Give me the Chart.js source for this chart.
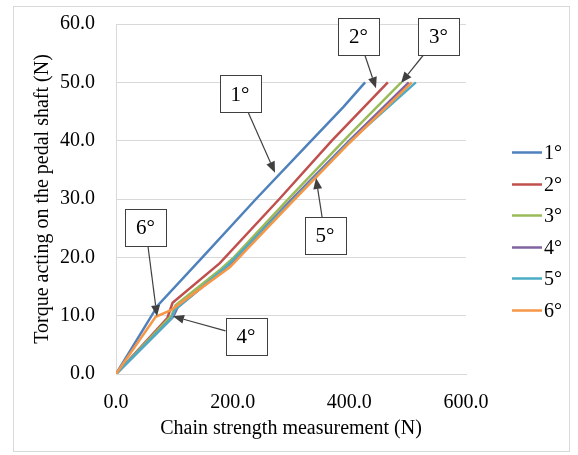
<!DOCTYPE html>
<html><head><meta charset="utf-8">
<script src="https://cdn.jsdelivr.net/npm/chart.js@4/dist/chart.umd.min.js"></script>
<style>
html,body{margin:0;padding:0;background:#fff;}
#wrap{position:absolute;left:13px;top:6px;width:555px;height:444px;border:1px solid #d9d9d9;}
canvas{display:block}
</style></head><body>
<div id="wrap"><canvas id="c" width="555" height="444"></canvas></div>
<script>
const seriesNames = ['1°','2°','3°','4°','5°','6°'];
const x1 = [0, 72, 150, 240, 330, 390, 427];
const y1 = [0, 11.8, 20.2, 30, 39.5, 45.8, 50];
const x2 = [0, 88, 97, 178, 280, 370, 466];
const y2 = [0, 9.6, 12.2, 19, 30, 40, 50];
const x3 = [0, 95, 102, 180, 200, 300, 400, 489];
const y3 = [0, 10, 11.8, 18, 19.8, 30.5, 41, 50];
const x4 = [0, 98, 106, 180, 200, 300, 400, 502];
const y4 = [0, 9.8, 11.5, 17.5, 19.3, 29.8, 40, 50];
const x5 = [0, 95, 101, 190, 300, 400, 514];
const y5 = [0, 9.5, 11, 18.5, 29.5, 39.8, 50];
const x6 = [0, 68, 95, 195, 300, 400, 507];
const y6 = [0, 9.8, 11, 18.3, 29.3, 39.6, 50];
const xTicks = [0, 200, 400, 600];
const yTicks = [0, 10, 20, 30, 40, 50, 60];

const colors = ['#4F81BD','#C0504D','#9BBB59','#8064A2','#4BACC6','#F79646'];
const xs = [x1,x2,x3,x4,x5,x6], ys = [y1,y2,y3,y4,y5,y6];
const FONT = "'Liberation Serif', 'Times New Roman', serif";
const FS = 20;

// annotation callouts: label, box centre (data), arrow tip (data)
const callouts = [
  {label:'1°', bx:212.6, by:48.0, tx:272.6, ty:34.5},
  {label:'2°', bx:415.7, by:57.9, tx:445.7, ty:49.0},
  {label:'3°', bx:552.9, by:57.9, tx:488.6, ty:49.9},
  {label:'4°', bx:222.9, by:6.4,  tx:97.7,  ty:9.9},
  {label:'5°', bx:358.3, by:23.7, tx:342.9, ty:33.6},
  {label:'6°', bx:50.6,  by:25.2, tx:70.3,  ty:9.9}
];

const calloutPlugin = {
  id:'callouts',
  afterDraw(chart){
    const ctx = chart.ctx, sx = chart.scales.x, sy = chart.scales.y;
    const W = 41, H = 37;
    ctx.save();
    callouts.forEach(c=>{
      const cx = sx.getPixelForValue(c.bx), cy = sy.getPixelForValue(c.by);
      const tx = sx.getPixelForValue(c.tx), ty = sy.getPixelForValue(c.ty);
      const dx = tx-cx, dy = ty-cy;
      const t = Math.min(Math.abs((W/2)/ (dx||1e-9)), Math.abs((H/2)/(dy||1e-9)));
      const s0x = cx + dx*t, s0y = cy + dy*t;
      const ang = Math.atan2(ty-s0y, tx-s0x);
      const L = 11, hw = 4.5;
      const bx = tx - Math.cos(ang)*L, by = ty - Math.sin(ang)*L;
      ctx.strokeStyle = '#404040'; ctx.fillStyle = '#404040'; ctx.lineWidth = 1.2;
      ctx.beginPath(); ctx.moveTo(s0x,s0y); ctx.lineTo(bx,by); ctx.stroke();
      ctx.beginPath();
      ctx.moveTo(tx,ty);
      ctx.lineTo(bx - Math.sin(ang)*hw, by + Math.cos(ang)*hw);
      ctx.lineTo(bx + Math.sin(ang)*hw, by - Math.cos(ang)*hw);
      ctx.closePath(); ctx.fill();
      ctx.fillStyle = '#fff';
      ctx.fillRect(Math.round(cx-W/2)+0.5, Math.round(cy-H/2)+0.5, W, H);
      ctx.strokeStyle = '#404040'; ctx.lineWidth = 1;
      ctx.strokeRect(Math.round(cx-W/2)+0.5, Math.round(cy-H/2)+0.5, W, H);
      ctx.fillStyle = '#000'; ctx.font = '21px ' + FONT;
      ctx.textAlign = 'center'; ctx.textBaseline = 'middle';
      ctx.fillText(c.label, cx, cy+1);
    });
    ctx.restore();
  }
};

// legend drawn to the right of the plot, from the chart's datasets
const legendPlugin = {
  id:'sideLegend',
  afterDraw(chart){
    const ctx = chart.ctx, area = chart.chartArea;
    const x0 = area.right + 46, lineLen = 30, step = 31.6;
    const n = chart.data.datasets.length;
    const yc = 224 - (n-1)/2*step;
    ctx.save();
    ctx.font = FS + 'px ' + FONT; ctx.textBaseline = 'middle'; ctx.textAlign = 'left';
    chart.data.datasets.forEach((ds,i)=>{
      const y = Math.round(yc + i*step) + 0.5;
      ctx.strokeStyle = ds.borderColor; ctx.lineWidth = 2.5;
      ctx.beginPath(); ctx.moveTo(x0, y); ctx.lineTo(x0+lineLen, y); ctx.stroke();
      ctx.fillStyle = '#000';
      ctx.fillText(ds.label, x0+lineLen+2, y+1);
    });
    ctx.restore();
  }
};

const datasets = seriesNames.map((n,i)=>({
  label:n,
  data: xs[i].map((x,j)=>({x:x, y:ys[i][j]})),
  borderColor: colors[i], backgroundColor: colors[i],
  borderWidth: 2.5, showLine:true, pointRadius:0, fill:false,
  order: 5-i
}));

new Chart(document.getElementById('c'), {
  type:'scatter',
  data:{datasets},
  options:{
    responsive:false, devicePixelRatio:1, animation:false,
    layout:{padding:{left:17, top:17, right:103, bottom:10}},
    plugins:{ legend:{display:false}, tooltip:{enabled:false} },
    scales:{
      x:{type:'linear', min:0, max:600,
        afterBuildTicks: s=>{ s.ticks = xTicks.map(v=>({value:v})); },
        afterFit: s=>{ s.height = 67; },
        ticks:{callback:v=>Number(v).toFixed(1), color:'#000', font:{family:FONT,size:FS}, padding:3, maxRotation:0},
        grid:{display:true, drawOnChartArea:false, drawTicks:true, tickLength:14, tickColor:'rgba(0,0,0,0)'},
        border:{display:true, color:'#d9d9d9', width:1},
        title:{display:true, text:'Chain strength measurement (N)', color:'#000', font:{family:FONT,size:FS}, padding:0}
      },
      y:{type:'linear', min:0, max:60,
        afterBuildTicks: s=>{ s.ticks = yTicks.map(v=>({value:v})); },
        afterFit: s=>{ s.width = 85; },
        ticks:{callback:v=>Number(v).toFixed(1), color:'#000', font:{family:FONT,size:FS}, padding:3},
        grid:{color:'#d9d9d9', lineWidth:1, drawTicks:true, tickLength:18, tickColor:'rgba(0,0,0,0)'},
        border:{display:true, color:'#d9d9d9', width:1},
        title:{display:true, text:'Torque acting on the pedal shaft (N)', color:'#000', font:{family:FONT,size:FS}, padding:0}
      }
    }
  },
  plugins:[calloutPlugin, legendPlugin]
});
</script>
</body></html>
